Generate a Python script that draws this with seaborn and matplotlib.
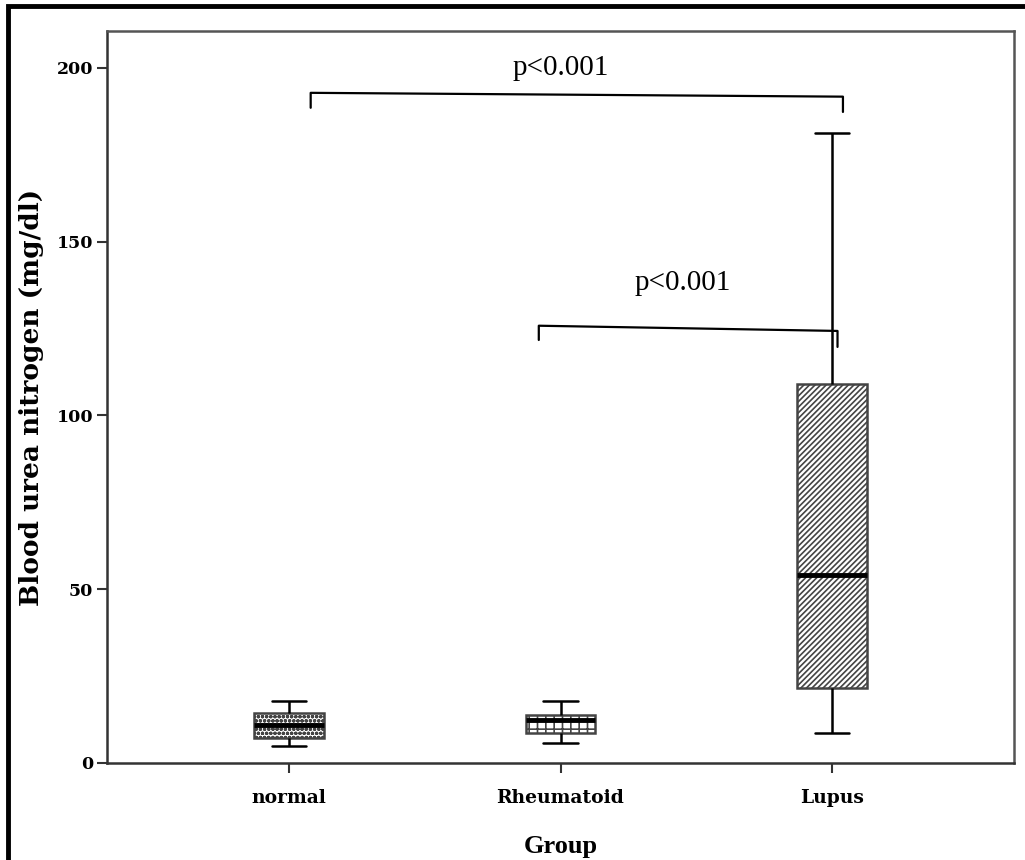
import numpy as np
import pandas as pd
import seaborn as sns
import matplotlib.pyplot as plt
from matplotlib.patches import Rectangle

# five-number summary per group (min, q1, median, q3, max)
groups = ["normal", "Rheumatoid", "Lupus"]
bun_normal = [4.9, 7.2, 10.9, 14.4, 17.8]
bun_rheumatoid = [5.8, 8.6, 12.4, 13.8, 17.8]
bun_lupus = [8.6, 21.6, 54.1, 109.0, 181.3]
hatches = ["oooo", "++", "//////"]

# significance brackets: (x left, x right, y left, y right, drop left, drop right, label pos)
brackets = [
    (0.08, 2.04, 192.8, 191.7, 188.5, 187.3, (1.0, 200.0)),
    (0.92, 2.02, 125.8, 124.3, 121.7, 119.7, (1.45, 138.0)),
]
p_labels = ["p<0.001", "p<0.001"]

df = pd.DataFrame({
    "Group": np.repeat(groups, 5),
    "BUN": bun_normal + bun_rheumatoid + bun_lupus,
})

sns.set_style("white")
plt.rcParams["font.family"] = ["Liberation Serif", "DejaVu Serif"]
plt.rcParams["hatch.linewidth"] = 1.2
for key in ["text.color", "axes.labelcolor", "xtick.labelcolor", "ytick.labelcolor"]:
    plt.rcParams[key] = "black"

fig = plt.figure(figsize=(10.25, 8.6), dpi=100)
ax = fig.add_axes([0.1044, 0.1128, 0.8849, 0.8512])

sns.boxplot(data=df, x="Group", y="BUN", order=groups, whis=(0, 100), width=0.255,
            color="white", linecolor="black", linewidth=1.8, ax=ax,
            medianprops=dict(linewidth=3.5, color="black"),
            boxprops=dict(edgecolor="#555555"))

for patch, h in zip(ax.patches, hatches):
    patch.set_hatch(h)
    patch.set_edgecolor("#444444")

for (x0, x1, y0, y1, d0, d1, (tx, ty)), lab in zip(brackets, p_labels):
    ax.plot([x0, x0, x1, x1], [d0, y0, y1, d1], color="black", linewidth=1.6)
    ax.text(tx, ty, lab, ha="center", va="center", fontsize=21, color="black")

ax.set_xlim(-0.67, 2.67)
ax.set_ylim(0, 210.6)
ax.set_yticks([0, 50, 100, 150, 200])
ax.set_xlabel("Group", fontsize=19, fontweight="bold", labelpad=20, color="black")
ax.set_ylabel("Blood urea nitrogen (mg/dl)", fontsize=19, fontweight="bold", labelpad=9,
              family="DejaVu Serif", color="black")
ax.tick_params(axis="both", direction="out", length=7, width=1.5, color="#333333",
               left=True, bottom=True, pad=3)
ax.tick_params(axis="x", pad=12)
for t in ax.get_xticklabels():
    t.set_fontweight("bold")
    t.set_family("DejaVu Serif")
    t.set_fontsize(13.5)
for t in ax.get_yticklabels():
    t.set_fontweight("bold")
    t.set_family("DejaVu Serif")
    t.set_fontsize(12.5)

for side in ["left", "bottom"]:
    ax.spines[side].set_color("#333333")
    ax.spines[side].set_linewidth(1.8)
for side in ["top", "right"]:
    ax.spines[side].set_color("#555555")
    ax.spines[side].set_linewidth(1.8)

# outer frame around the whole picture
frame = Rectangle((0.008, -0.2), 1.2, 1.193, transform=fig.transFigure,
                  fill=False, edgecolor="black", linewidth=3.5, clip_on=False)
fig.patches.append(frame)

fig.savefig("out.png", dpi=100)
